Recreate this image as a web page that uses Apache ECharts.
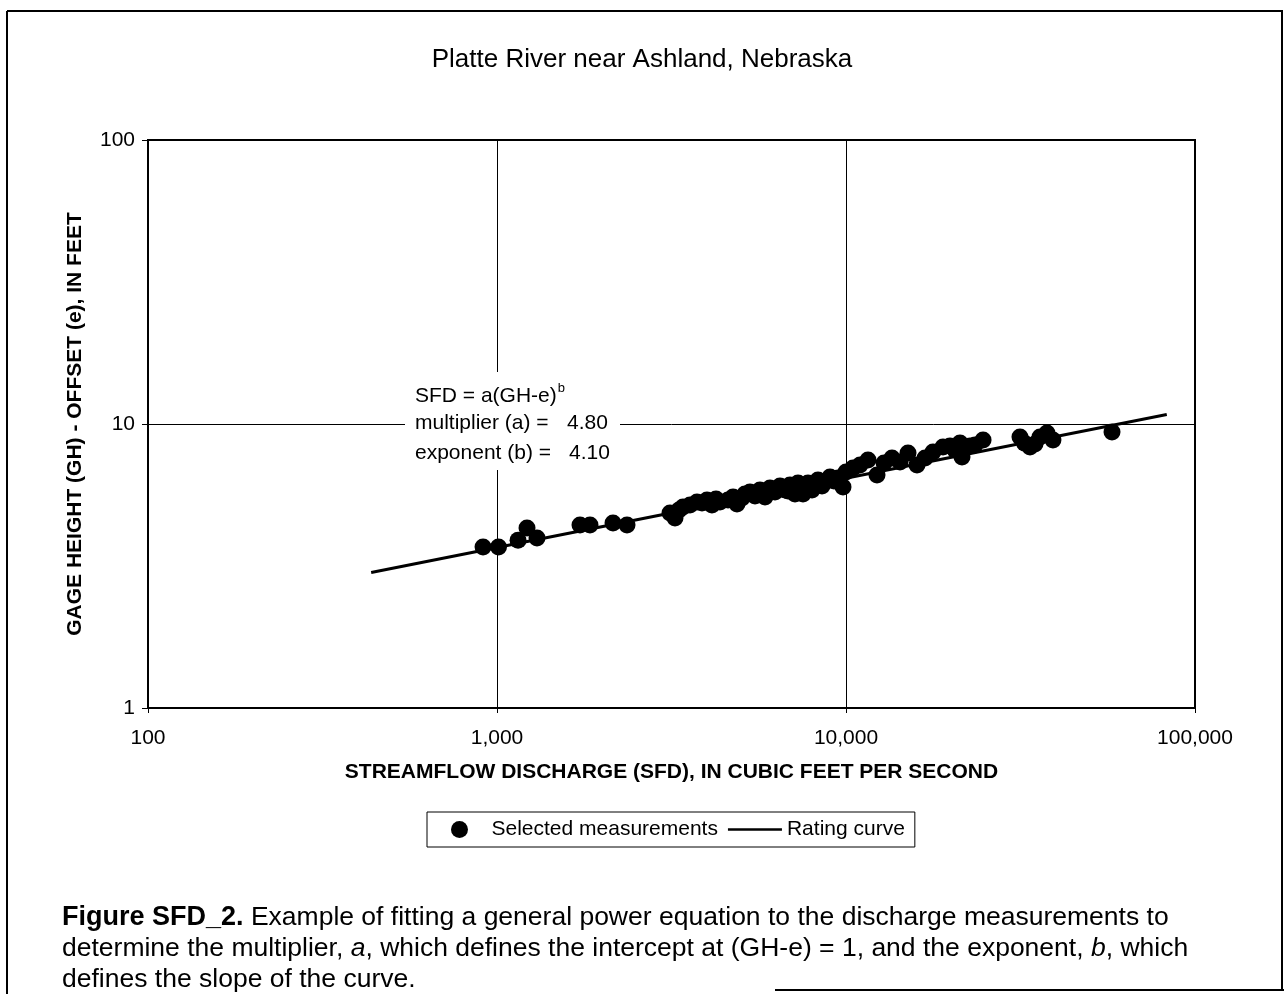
<!DOCTYPE html>
<html>
<head>
<meta charset="utf-8">
<script src="https://cdn.jsdelivr.net/npm/echarts@6/dist/echarts.min.js"></script>
<style>
html,body{margin:0;padding:0;background:#fff;}
#chart{width:1284px;height:994px;}
</style>
</head>
<body>
<div id="chart"></div>
<script>
const titleText = 'Platte River near Ashland, Nebraska';
const xAxisName = 'STREAMFLOW DISCHARGE (SFD), IN CUBIC FEET PER SECOND';
const yAxisName = 'GAGE HEIGHT (GH) - OFFSET (e), IN FEET';
const xTicks = [100, 1000, 10000, 100000];
const yTicks = [1, 10, 100];
const measuredSFD = [912, 1010, 1149, 1219, 1302, 1729, 1847, 2150, 2358, 3131, 3236, 3323, 3412, 3573, 3742, 3868, 3997, 4130, 4241, 4355, 4592, 4746, 4872, 5035, 5135, 5308, 5486, 5669, 5861, 5978, 6057, 6259, 6470, 6687, 6821, 6910, 7143, 7287, 7383, 7530, 7782, 7990, 8150, 8313, 8536, 8763, 8999, 9240, 9487, 9804, 10000, 10474, 10967, 11561, 12271, 12853, 13547, 14279, 15055, 15974, 16848, 17752, 18963, 19861, 20526, 21212, 21495, 22664, 23420, 24701, 31513, 32500, 33669, 34795, 35960, 37657, 39176, 57838];
const measuredGH = [3.69, 3.69, 3.90, 4.30, 3.97, 4.41, 4.41, 4.48, 4.41, 4.86, 4.67, 4.98, 5.10, 5.19, 5.31, 5.27, 5.40, 5.19, 5.44, 5.31, 5.40, 5.53, 5.23, 5.49, 5.67, 5.76, 5.58, 5.86, 5.53, 5.76, 5.95, 5.76, 6.05, 5.86, 5.81, 6.10, 5.67, 6.20, 6.05, 5.67, 6.20, 5.86, 6.15, 6.35, 6.05, 6.30, 6.51, 6.30, 6.45, 6.00, 6.78, 7.00, 7.17, 7.47, 6.61, 7.29, 7.59, 7.35, 7.90, 7.17, 7.59, 7.97, 8.30, 8.37, 8.10, 8.57, 7.65, 8.37, 8.43, 8.78, 9.00, 8.55, 8.30, 8.50, 9.00, 9.30, 8.78, 9.37];
const ratingSFD = [436, 83000];
const ratingGH = [3.0, 10.8];
const annotationLines = ['multiplier (a) =', 'exponent (b) ='];
const annotationValues = ['4.80', '4.10'];

const FONT = '"Liberation Sans", Arial, Helvetica, sans-serif';
const chart = echarts.init(document.getElementById('chart'));

const scatterData = measuredSFD.map((v, i) => [v, measuredGH[i]]);
const lineData = ratingSFD.map((v, i) => [v, ratingGH[i]]);

const captionRich =
  '{b|Figure SFD_2.}{n| Example of fitting a general power equation to the discharge measurements to}\n' +
  '{n|determine the multiplier, }{i|a}{n|, which defines the intercept at (GH-e) = 1, and the exponent, }{i|b}{n|, which}\n' +
  '{n|defines the slope of the curve.}';

const option = {
  backgroundColor: '#fff',
  animation: false,
  textStyle: { fontFamily: FONT, color: '#000' },
  title: {
    text: titleText,
    left: 'center',
    top: 42,
    textStyle: { fontFamily: FONT, fontSize: 26, fontWeight: 'normal', color: '#000' }
  },
  grid: {
    left: 148, right: 89, top: 140, bottom: 286,
    show: true, borderColor: '#000', borderWidth: 2, backgroundColor: 'transparent'
  },
  xAxis: {
    type: 'log', logBase: 10, min: xTicks[0], max: xTicks[xTicks.length - 1],
    name: xAxisName, nameLocation: 'middle', nameGap: 54,
    nameTextStyle: { fontFamily: FONT, fontSize: 21, fontWeight: 'bold', color: '#000' },
    axisLine: { show: true, lineStyle: { color: '#000', width: 2 } },
    axisTick: { show: true, length: 5, lineStyle: { color: '#000' } },
    axisLabel: { margin: 20, fontSize: 21, color: '#000', fontFamily: FONT,
      formatter: v => Math.round(v).toLocaleString('en-US') },
    splitLine: { show: true, lineStyle: { color: '#000', width: 1 } },
    minorTick: { show: false }
  },
  yAxis: {
    type: 'log', logBase: 10, min: yTicks[0], max: yTicks[yTicks.length - 1],
    name: yAxisName, nameLocation: 'middle', nameGap: 62, nameRotate: 90,
    nameTextStyle: { fontFamily: FONT, fontSize: 21, fontWeight: 'bold', color: '#000' },
    axisLine: { show: true, lineStyle: { color: '#000', width: 2 } },
    axisTick: { show: true, length: 6, lineStyle: { color: '#000' } },
    axisLabel: { margin: 13, fontSize: 21, color: '#000', fontFamily: FONT,
      formatter: v => Math.round(v).toString() },
    splitLine: { show: true, lineStyle: { color: '#000', width: 1 } }
  },
  legend: {
    left: 427, top: 812,
    orient: 'horizontal',
    borderColor: '#000', borderWidth: 1,
    padding: [7, 10, 7, 24],
    itemWidth: 54, itemHeight: 17, itemGap: 10,
    textStyle: { fontFamily: FONT, fontSize: 21, color: '#000' },
    data: [
      { name: 'Selected measurements', icon: 'circle', itemStyle: { color: '#000', opacity: 1 } },
      { name: 'Rating curve', icon: 'path://M0,0 H54 V2.5 H0 Z' }
    ]
  },
  series: [
    {
      name: 'Selected measurements',
      type: 'scatter',
      data: scatterData,
      symbol: 'circle',
      symbolSize: 17,
      itemStyle: { color: '#000', opacity: 1 },
      z: 3
    },
    {
      name: 'Rating curve',
      type: 'line',
      data: lineData,
      showSymbol: false,
      symbol: 'none',
      lineStyle: { color: '#000', width: 3 },
      itemStyle: { color: '#000' },
      z: 2
    }
  ],
  graphic: [
    { type: 'line', shape: { x1: 7, y1: 11, x2: 1283, y2: 11 }, style: { stroke: '#000', lineWidth: 2 }, silent: true },
    { type: 'line', shape: { x1: 7, y1: 11, x2: 7, y2: 994 }, style: { stroke: '#000', lineWidth: 2 }, silent: true },
    { type: 'line', shape: { x1: 1282, y1: 11, x2: 1282, y2: 990 }, style: { stroke: '#000', lineWidth: 2 }, silent: true },
    { type: 'line', shape: { x1: 775, y1: 990, x2: 1284, y2: 990 }, style: { stroke: '#000', lineWidth: 2 }, silent: true },
    { type: 'rect', shape: { x: 405, y: 372, width: 215, height: 98 }, style: { fill: '#fff' }, z: 1, silent: true },
    {
      type: 'text', left: 415, top: 382, z: 2, silent: true,
      style: {
        text: '{m|SFD = a(GH-e)}{s|b}',
        rich: {
          m: { fontFamily: FONT, fontSize: 21, fill: '#000', verticalAlign: 'bottom' },
          s: { fontFamily: FONT, fontSize: 13, fill: '#000', verticalAlign: 'top', padding: [0, 0, 12, 1] }
        }
      }
    },
    { type: 'text', left: 415, top: 413, z: 2, silent: true,
      style: { text: annotationLines[0], fontFamily: FONT, fontSize: 21, fill: '#000' } },
    { type: 'text', left: 567, top: 413, z: 2, silent: true,
      style: { text: annotationValues[0], fontFamily: FONT, fontSize: 21, fill: '#000' } },
    { type: 'text', left: 415, top: 443, z: 2, silent: true,
      style: { text: annotationLines[1], fontFamily: FONT, fontSize: 21, fill: '#000' } },
    { type: 'text', left: 569, top: 443, z: 2, silent: true,
      style: { text: annotationValues[1], fontFamily: FONT, fontSize: 21, fill: '#000' } },
    {
      type: 'text', left: 62, top: 904, silent: true,
      style: {
        text: captionRich,
        rich: {
          b: { fontFamily: FONT, fontSize: 27, fontWeight: 'bold', fill: '#000', lineHeight: 31 },
          n: { fontFamily: FONT, fontSize: 26.5, fill: '#000', lineHeight: 31 },
          i: { fontFamily: FONT, fontSize: 26.5, fontStyle: 'italic', fill: '#000', lineHeight: 31 }
        }
      }
    }
  ]
};
chart.setOption(option);
</script>
</body>
</html>
